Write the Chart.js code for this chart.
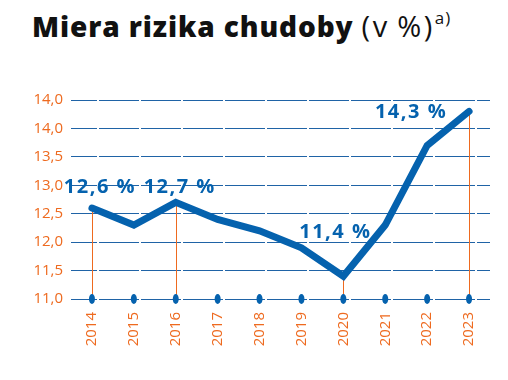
<!DOCTYPE html>
<html>
<head>
<meta charset="utf-8">
<script src="https://cdn.jsdelivr.net/npm/chart.js@4"></script>
<style>
  html, body { margin: 0; padding: 0; background: #fff; }
  #wrap { position: relative; width: 508px; height: 380px; }
  #title { position: absolute; left: 32px; top: 6px; font-family: 'Open Sans', sans-serif; font-size: 28px; color: #111; white-space: nowrap; }
  #title b { font-weight: 800; letter-spacing: 0.9px; }
  #title span { font-weight: 400; font-size: 29px; letter-spacing: 2.5px; margin-left: 8px; }
  #title i { font-style: normal; letter-spacing: 0; }
  #title sup { font-size: 17px; letter-spacing: 1px; position: relative; top: -2px; margin-left: 0px; }
  canvas { position: absolute; left: 0; top: 0; }
</style>
</head>
<body>
<div id="wrap">
  <div id="title"><b>Miera rizika chudoby</b><span>(v<i>&nbsp;</i>%)<sup>a)</sup></span></div>
  <canvas id="myChart" width="508" height="380"></canvas>
</div>
<script>
// data
const years = ['2014', '2015', '2016', '2017', '2018', '2019', '2020', '2021', '2022', '2023'];
const riziko = [12.6, 12.3, 12.7, 12.4, 12.2, 11.9, 11.4, 12.3, 13.7, 14.3];
const yTicks = [11.0, 11.5, 12.0, 12.5, 13.0, 13.5, 14.0, 14.5];
const yTickLabels = ['11,0', '11,5', '12,0', '12,5', '13,0', '13,5', '14,0', '14,0']; // as printed in the source
const labeledYears = ['2014', '2016', '2020', '2023'];

const BLUE = '#0562AE';
const ORANGE = '#EE6A1F';

// label offsets for the value labels (px, relative to the point)
const labelOffsets = {
    '2014': [8, -21],
    '2016': [4, -15],
    '2020': [-8, -44],
    '2023': [-58, 1]
};

const fmt = v => v.toFixed(1).replace('.', ',') + ' %';

//
// plugin: drop lines, axis dots, value labels
//
const extras = {
    id: 'extras',
    beforeDatasetsDraw(chart) {
        const ctx = chart.ctx;
        const xs = chart.scales.x, ys = chart.scales.y;
        ctx.save();
        ctx.strokeStyle = ORANGE;
        ctx.lineWidth = 1;
        labeledYears.forEach(y => {
            const i = years.indexOf(y);
            const px = Math.round(xs.getPixelForValue(i)) + 0.5;
            ctx.beginPath();
            ctx.moveTo(px, ys.getPixelForValue(riziko[i]));
            ctx.lineTo(px, ys.bottom);
            ctx.stroke();
        });
        ctx.restore();
    },
    afterDatasetsDraw(chart) {
        const ctx = chart.ctx;
        const xs = chart.scales.x, ys = chart.scales.y;
        ctx.save();
        // dots on the axis
        ctx.fillStyle = BLUE;
        years.forEach((y, i) => {
            const px = xs.getPixelForValue(i);
            ctx.beginPath();
            ctx.ellipse(px, ys.bottom, 3, 5, 0, 0, Math.PI * 2);
            ctx.fill();
        });
        // value labels
        ctx.font = "bold 20px 'Open Sans', sans-serif";
        ctx.letterSpacing = '1.5px';
        ctx.textAlign = 'center';
        ctx.textBaseline = 'middle';
        labeledYears.forEach(y => {
            const i = years.indexOf(y);
            const off = labelOffsets[y];
            const px = xs.getPixelForValue(i) + off[0];
            const py = ys.getPixelForValue(riziko[i]) + off[1];
            ctx.fillStyle = BLUE;
            ctx.fillText(fmt(riziko[i]), px, py);
        });
        ctx.restore();
    }
};

new Chart(document.getElementById('myChart').getContext('2d'), {
    type: 'line',
    data: {
        labels: years,
        datasets: [{
            data: riziko,
            borderColor: BLUE,
            borderWidth: 7,
            pointRadius: 0,
            borderCapStyle: 'round',
            borderJoinStyle: 'miter',
            tension: 0,
            fill: false
        }]
    },
    options: {
        responsive: false,
        animation: false,
        layout: { padding: { top: 100, right: 18, left: 0, bottom: 0 } },
        plugins: { legend: { display: false }, tooltip: { enabled: false } },
        scales: {
            x: {
                offset: true,
                grid: { display: false },
                border: { display: false },
                ticks: {
                    color: ORANGE,
                    font: { family: "'Open Sans', sans-serif", size: 15, weight: '500' },
                    maxRotation: 90,
                    minRotation: 90,
                    padding: 5
                },
                afterFit: s => { s.height = 81; }
            },
            y: {
                min: 11.0,
                max: 14.5,
                afterBuildTicks: s => { s.ticks = yTicks.map(v => ({ value: v })); },
                grid: {
                    color: '#1F63A6',
                    lineWidth: 1,
                    drawTicks: false
                },
                border: { display: false, dash: [40, 2], dashOffset: 14 },
                ticks: {
                    color: ORANGE,
                    font: { family: "'Open Sans', sans-serif", size: 15, weight: '500' },
                    padding: 8,
                    callback: (v, i) => yTickLabels[i]
                },
                afterFit: s => { s.width = 71; }
            }
        }
    },
    plugins: [extras]
});
</script>
</body>
</html>
